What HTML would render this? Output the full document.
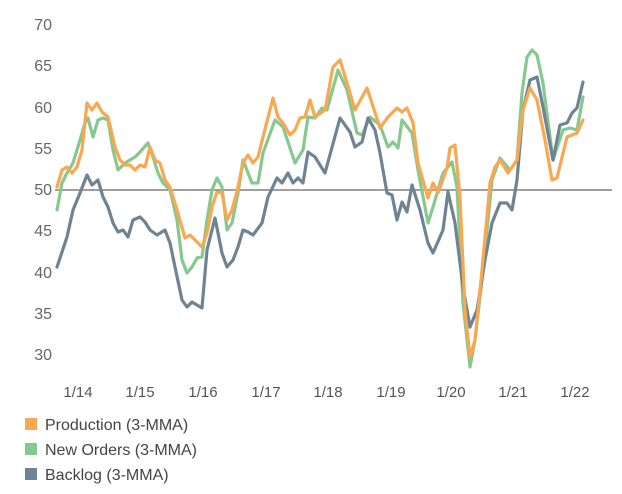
<!DOCTYPE html>
<html><head><style>
html,body{margin:0;padding:0;background:#fff;}
svg{display:block;font-family:"Liberation Sans",sans-serif;}
</style></head><body>
<svg width="622" height="494" xmlns="http://www.w3.org/2000/svg">
<g fill="#666" font-size="16" text-anchor="end">
<text x="52" y="30">70</text><text x="52" y="71">65</text><text x="52" y="113">60</text><text x="52" y="154">55</text><text x="52" y="195">50</text><text x="52" y="236">45</text><text x="52" y="278">40</text><text x="52" y="319">35</text><text x="52" y="360">30</text>
</g>
<g fill="#555" font-size="15" text-anchor="middle">
<text x="78" y="397">1/14</text><text x="140" y="397">1/15</text><text x="203" y="397">1/16</text><text x="266" y="397">1/17</text><text x="328" y="397">1/18</text><text x="391" y="397">1/19</text><text x="451" y="397">1/20</text><text x="513" y="397">1/21</text><text x="575" y="397">1/22</text>
</g>
<line x1="55" y1="190" x2="612" y2="190" stroke="#666" stroke-width="1.2"/>
<g fill="none" stroke-width="3.2" stroke-linejoin="round" stroke-linecap="round">
<polyline stroke="#86c98f" points="57,210 62,183 67,173 73,163 80,140 85,123 88,118 93,137 98,120 103,118 108,120 113,150 118,170 125,163 135,157 140,152 148,143 153,157 158,173 163,183 170,190 177,220 182,260 187,273 192,267 197,258 202,257 207,220 212,190 217,178 222,187 227,230 232,223 238,193 243,160 252,183 258,183 263,153 275,120 283,127 295,163 303,150 308,117 315,118 322,108 327,110 338,70 347,90 357,133 362,135 370,117 380,125 388,147 393,142 398,148 402,120 412,133 418,170 428,223 433,207 443,173 452,162 457,187 463,303 470,367 475,340 482,280 492,180 500,158 510,170 517,160 522,93 527,57 532,50 537,55 543,83 553,160 563,130 570,128 577,130 583,97"/>
<polyline stroke="#6e8494" points="57,267 67,237 73,210 80,193 87,175 92,185 98,180 103,197 108,207 113,223 118,232 123,230 128,237 133,220 140,217 145,222 150,230 157,235 165,230 170,243 175,267 182,300 187,307 192,302 197,305 202,308 207,250 215,218 222,253 227,267 233,260 238,247 243,230 248,232 253,235 262,223 268,197 277,178 282,183 288,173 293,183 298,178 303,183 308,152 315,157 325,173 340,118 350,132 355,147 362,142 368,118 375,130 380,153 387,193 392,195 397,220 402,202 407,212 412,185 420,210 428,243 433,253 443,230 448,192 455,223 463,287 470,327 477,310 485,260 492,223 500,203 507,203 512,210 517,180 523,110 530,80 537,77 543,107 553,160 560,125 567,123 572,113 577,108 583,82"/>
<polyline stroke="#f9a750" points="57,187 62,170 67,167 72,173 77,167 82,150 87,103 92,110 97,103 102,112 108,117 115,147 120,160 125,165 130,165 135,170 140,165 145,167 150,147 155,160 160,163 165,180 170,187 177,210 185,238 190,235 197,242 202,247 207,233 212,207 217,192 222,193 227,220 232,210 238,187 243,163 248,155 253,163 258,157 263,137 273,98 278,117 283,123 290,135 295,130 300,118 305,117 310,100 315,117 325,110 333,67 340,60 347,83 355,110 367,88 380,128 388,117 397,108 402,112 407,108 413,123 418,163 428,198 433,183 438,193 447,168 450,148 455,145 460,197 465,310 470,357 475,340 482,270 490,183 495,167 500,160 508,173 517,160 523,110 530,88 537,100 545,140 552,180 557,178 567,137 577,133 583,120"/>
</g>
<rect x="25" y="418" width="12" height="12" fill="#f9a750"/>
<rect x="25" y="443" width="12" height="12" fill="#86c98f"/>
<rect x="25" y="468" width="12" height="12" fill="#6e8494"/>
<g fill="#444" font-size="16">
<text x="45" y="430">Production (3-MMA)</text>
<text x="45" y="455">New Orders (3-MMA)</text>
<text x="45" y="480">Backlog (3-MMA)</text>
</g>
</svg>
</body></html>
